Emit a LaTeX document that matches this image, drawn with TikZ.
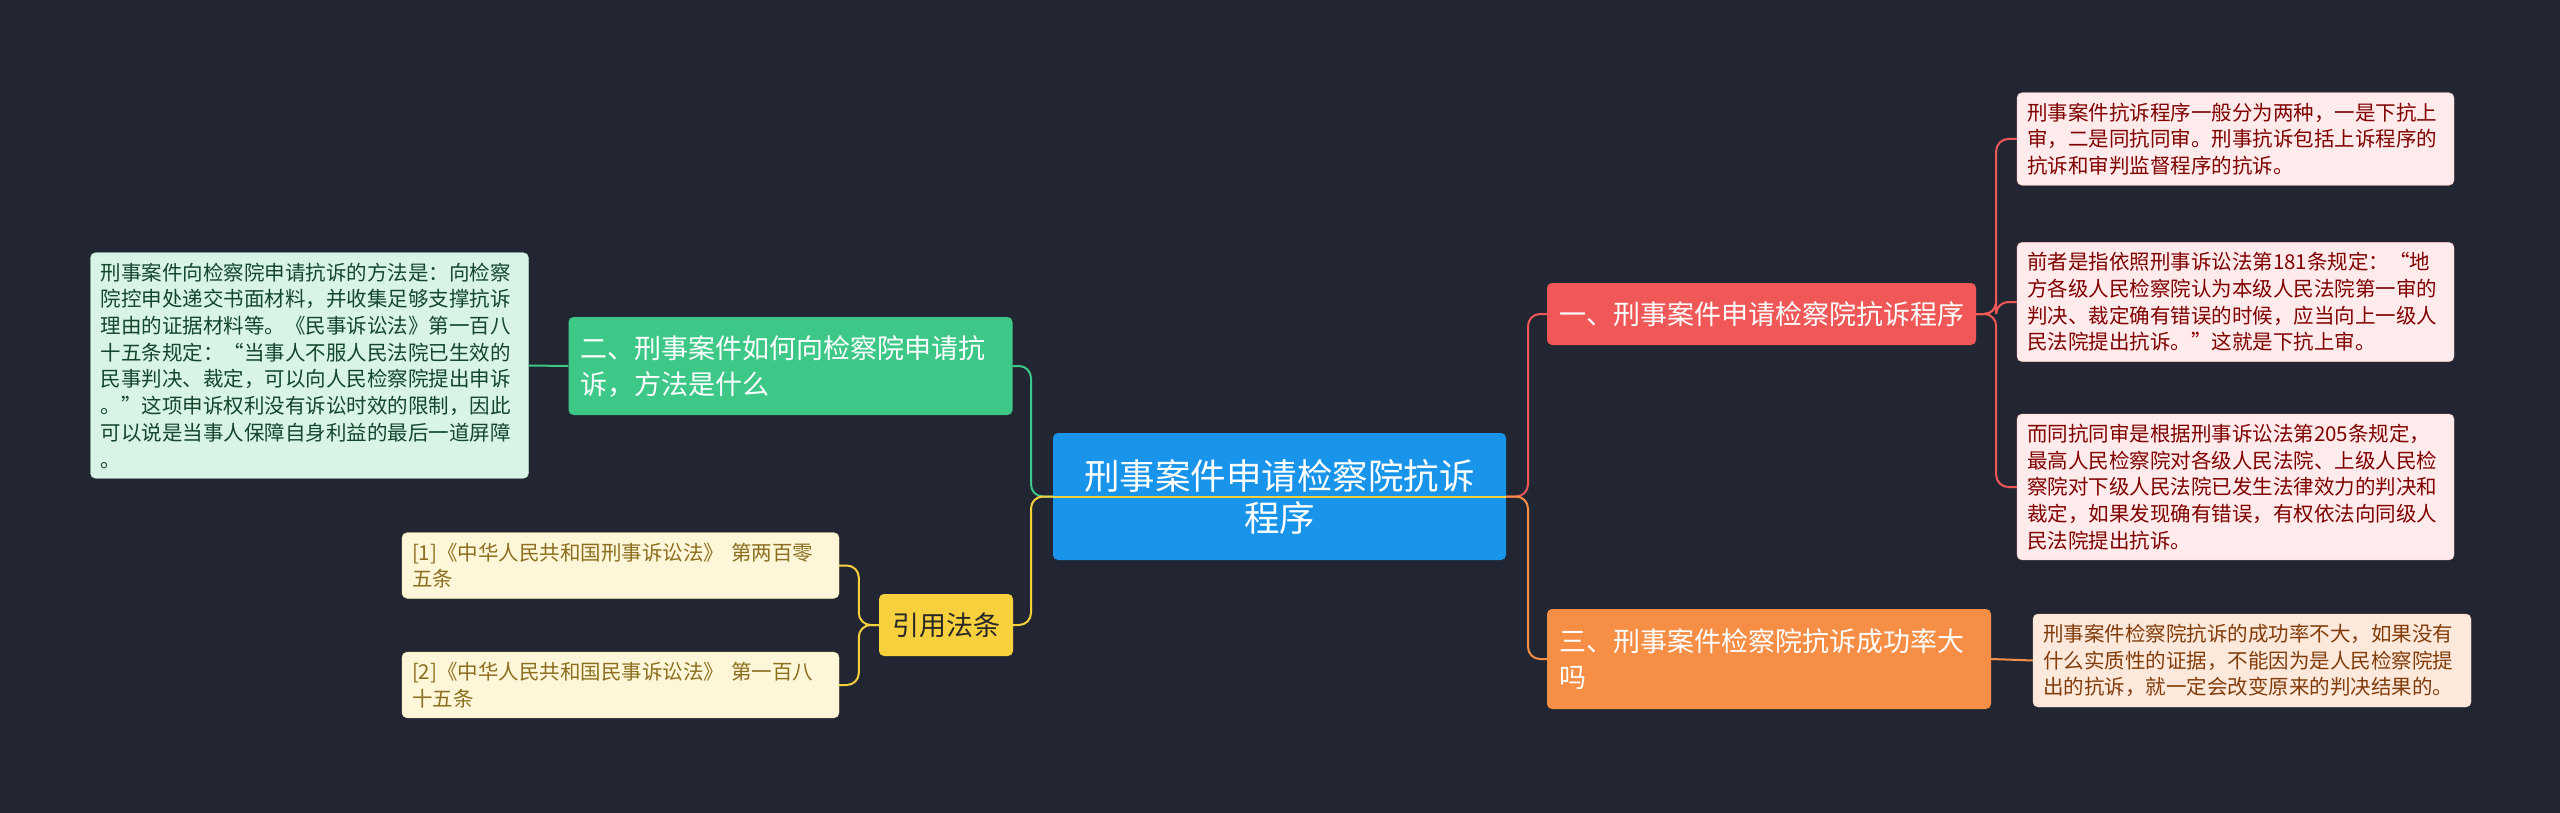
\documentclass[tikz,border=0pt]{standalone}
\usepackage{fontspec}
\setmainfont{Noto Sans CJK SC}
\begin{document}
\begin{tikzpicture}[x=1pt,y=-1pt,
  base/.style={rounded corners=5pt, inner sep=0pt, align=left},
  leaf/.style={base, text width=#1, minimum height=10pt, inner xsep=10pt, inner ysep=10pt, font=\fontsize{20.5}{26.7}\selectfont},
  redleaf/.style={leaf=417pt, fill=red!8!white, text=red!50!black, draw=red!25!white},
  link/.style={line width=2pt, rounded corners=12pt}]
\fill[fill={rgb,255:red,34;green,38;blue,50}] (0,0) rectangle (2560,813);
\useasboundingbox (0,0) rectangle (2560,813);

\node[base, fill={rgb,255:red,25;green,148;blue,235}, text=white, minimum width=453pt, minimum height=127pt, align=center, font=\fontsize{35.5}{42}\selectfont] (c) at (1279.5,496.5) {刑事案件申请检察院抗诉\\程序};

\node[base, fill={rgb,255:red,240;green,88;blue,88}, text=white, minimum width=429pt, minimum height=62pt, align=center, font=\fontsize{27}{34}\selectfont] (b1) at (1761.5,314) {一、刑事案件申请检察院抗诉程序};
\node[base, fill={rgb,255:red,247;green,142;blue,70}, text=white, text width=420pt, minimum height=100pt, inner xsep=12pt, font=\fontsize{27}{36}\selectfont] (b3) at (1769,659) {三、刑事案件检察院抗诉成功率大\\吗};
\node[base, fill={rgb,255:red,62;green,200;blue,136}, text=white, text width=420pt, minimum height=98pt, inner xsep=12pt, font=\fontsize{27}{36}\selectfont] (b2) at (790.5,366) {二、刑事案件如何向检察院申请抗\\诉，方法是什么};
\node[base, fill={rgb,255:red,247;green,208;blue,62}, text={rgb,255:red,40;green,40;blue,40}, minimum width=134pt, minimum height=62pt, align=center, font=\fontsize{27}{34}\selectfont] (b4) at (946,625) {引用法条};

\node[redleaf] (r1) at (2235.5,139) {刑事案件抗诉程序一般分为两种，一是下抗上\\审，二是同抗同审。刑事抗诉包括上诉程序的\\抗诉和审判监督程序的抗诉。};
\node[redleaf] (r2) at (2235.5,302) {前者是指依照刑事诉讼法第181条规定：“地\\方各级人民检察院认为本级人民法院第一审的\\判决、裁定确有错误的时候，应当向上一级人\\民法院提出抗诉。”这就是下抗上审。};
\node[redleaf] (r3) at (2235.5,487) {而同抗同审是根据刑事诉讼法第205条规定，\\最高人民检察院对各级人民法院、上级人民检\\察院对下级人民法院已发生法律效力的判决和\\裁定，如果发现确有错误，有权依法向同级人\\民法院提出抗诉。};
\node[leaf=418pt, fill={rgb,255:red,253;green,233;blue,220}, text={rgb,255:red,130;green,60;blue,10}, draw={rgb,255:red,250;green,210;blue,185}] (r4) at (2252,660.5) {刑事案件检察院抗诉的成功率不大，如果没有\\什么实质性的证据，不能因为是人民检察院提\\出的抗诉，就一定会改变原来的判决结果的。};
\node[leaf=418pt, fill={rgb,255:red,216;green,244;blue,230}, text={rgb,255:red,20;green,70;blue,45}, draw={rgb,255:red,190;green,230;blue,210}] (l1) at (309.5,365.5) {刑事案件向检察院申请抗诉的方法是：向检察\\院控申处递交书面材料，并收集足够支撑抗诉\\理由的证据材料等。《民事诉讼法》第一百八\\十五条规定：“当事人不服人民法院已生效的\\民事判决、裁定，可以向人民检察院提出申诉\\。”这项申诉权利没有诉讼时效的限制，因此\\可以说是当事人保障自身利益的最后一道屏障\\。};
\node[leaf=417pt, fill={rgb,255:red,253;green,246;blue,216}, text={rgb,255:red,140;green,110;blue,30}, draw={rgb,255:red,245;green,230;blue,175}] (y1) at (620.5,565.5) {[1]《中华人民共和国刑事诉讼法》 第两百零\\五条};
\node[leaf=417pt, fill={rgb,255:red,253;green,246;blue,216}, text={rgb,255:red,140;green,110;blue,30}, draw={rgb,255:red,245;green,230;blue,175}] (y2) at (620.5,685) {[2]《中华人民共和国民事诉讼法》 第一百八\\十五条};

\coordinate (cr) at (1506,496.5);
\coordinate (cl) at (1053,496.5);
\draw[link, color={rgb,255:red,240;green,88;blue,88}] (cr) -- ++(22,0) |- (b1.west);
\draw[link, color={rgb,255:red,247;green,142;blue,70}] (cr) -- ++(22,0) |- (b3.west);
\draw[link, color={rgb,255:red,62;green,200;blue,136}] (cl) -- ++(-22,0) |- (b2.east);
\draw[link, color={rgb,255:red,247;green,208;blue,62}] (cl) -- ++(-22,0) |- (b4.east);
\draw[line width=2pt, color={rgb,255:red,247;green,208;blue,62}] (c.west) -- (c.east);
\foreach \t in {r1,r2,r3} \draw[link, color={rgb,255:red,240;green,88;blue,88}] (b1.east) -- ++(20,0) |- (\t.west);
\draw[link, color={rgb,255:red,247;green,142;blue,70}] (b3.east) -- (r4.west);
\draw[link, color={rgb,255:red,62;green,200;blue,136}] (b2.west) -- (l1.east);
\foreach \t in {y1,y2} \draw[link, color={rgb,255:red,247;green,208;blue,62}] (b4.west) -- ++(-20,0) |- (\t.east);
\end{tikzpicture}
\end{document}
